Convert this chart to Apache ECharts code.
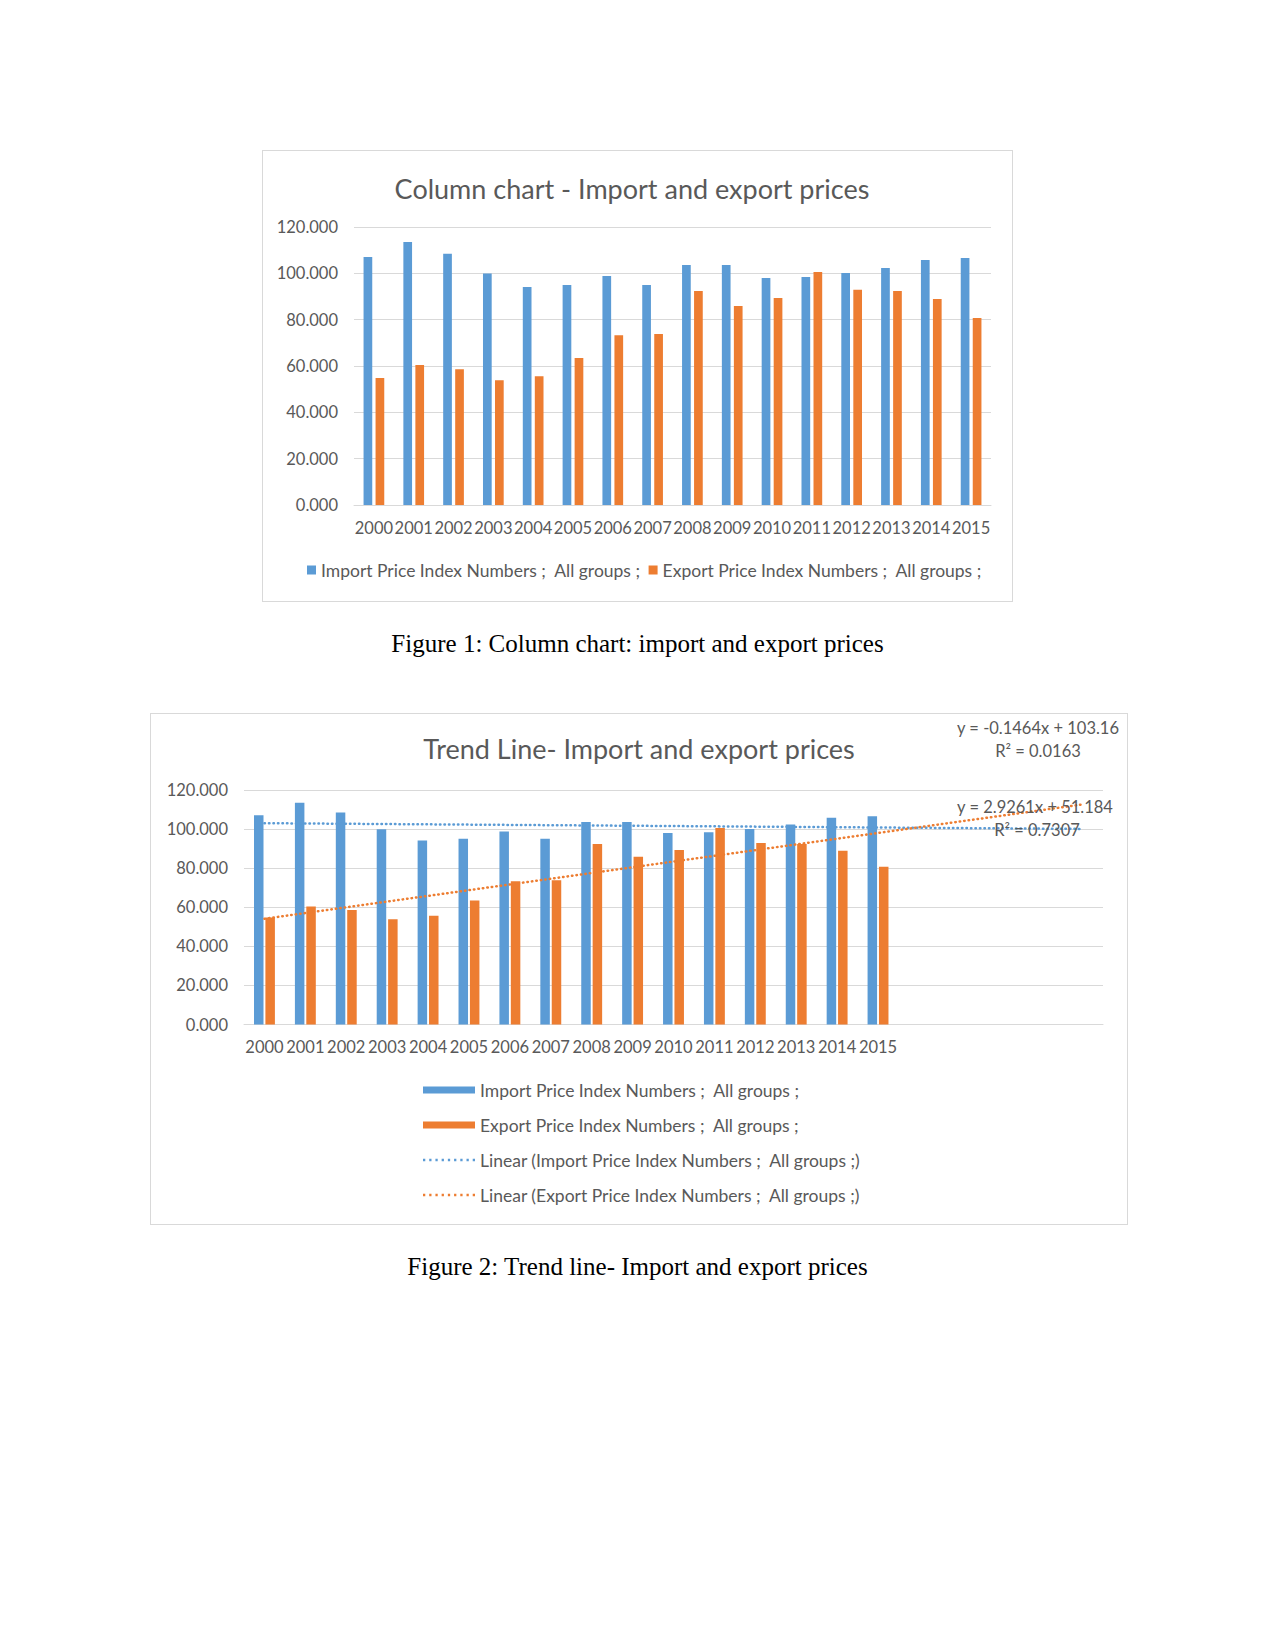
<!DOCTYPE html>
<html>
<head>
<meta charset="utf-8">
<script src="https://cdn.jsdelivr.net/npm/echarts@6/dist/echarts.min.js"></script>
<style>
  html, body { margin: 0; padding: 0; background: #ffffff; }
  body { width: 1275px; height: 1650px; position: relative; overflow: hidden; }
  #c1 { position: absolute; left: 262px; top: 150px; width: 751px; height: 452px; }
  #c2 { position: absolute; left: 150px; top: 713px; width: 978px; height: 512px; }
  .frame { position: absolute; box-sizing: border-box; border: 1px solid #d9d9d9;
           pointer-events: none; z-index: 5; }
  .cap { position: absolute; left: 0; width: 1275px; text-align: center;
         font-family: 'Liberation Serif', 'Times New Roman', serif; font-size: 25px;
         line-height: 30px; color: #000; }
</style>
</head>
<body>
<div id="c1"></div>
<div class="frame" style="left:262px;top:150px;width:751px;height:452px"></div>
<div class="cap" style="top:629px">Figure 1: Column chart: import and export prices</div>
<div id="c2"></div>
<div class="frame" style="left:150px;top:713px;width:978px;height:512px"></div>
<div class="cap" style="top:1252px">Figure 2: Trend line- Import and export prices</div>
<script>
// ---------------- data ----------------
const years = ['2000','2001','2002','2003','2004','2005','2006','2007',
               '2008','2009','2010','2011','2012','2013','2014','2015'];
const forecastYears = ['2016','2017','2018','2019','2020'];
const importIndex = [107.1,113.5,108.5,99.9,94.1,95.0,98.8,95.0,
                     103.6,103.6,98.0,98.4,100.1,102.3,105.8,106.6];
const exportIndex = [54.8,60.4,58.6,53.9,55.6,63.4,73.3,73.8,
                     92.4,85.9,89.3,100.6,92.9,92.4,88.9,80.7];
const yTicks = [0, 20, 40, 60, 80, 100, 120];
// trend line coefficients as printed on the chart: [slope, intercept]
const importTrendCoef = [-0.1464, 103.16];
const exportTrendCoef = [2.9261, 51.184];
const importR2 = '0.0163';
const exportR2 = '0.7307';

const importName = 'Import Price Index Numbers ;  All groups ;';
const exportName = 'Export Price Index Numbers ;  All groups ;';
const importTrendName = 'Linear (Import Price Index Numbers ;  All groups ;)';
const exportTrendName = 'Linear (Export Price Index Numbers ;  All groups ;)';

// ---------------- style ----------------
const FONT = 'Lato';
const GRAY = '#595959';
const GRID = '#d9d9d9';
const BLUE = '#5b9bd5';
const ORANGE = '#ed7d31';
const AXIS_FS = 16.5;
const LEGEND_FS = 17.5;
const TITLE_FS = 27;
// dotted legend icon (9 small squares)
const DOT_ICON = 'path://M0 0h2.2v2.2h-2.2zM6 0h2.2v2.2h-2.2zM12 0h2.2v2.2h-2.2zM18 0h2.2v2.2h-2.2zM24 0h2.2v2.2h-2.2zM30 0h2.2v2.2h-2.2zM36 0h2.2v2.2h-2.2zM42 0h2.2v2.2h-2.2zM48 0h2.2v2.2h-2.2z';

function yAxisCfg() {
  return {
    type: 'value', min: yTicks[0], max: yTicks[yTicks.length - 1],
    interval: yTicks[1] - yTicks[0],
    axisLine: { show: false }, axisTick: { show: false },
    axisLabel: { color: GRAY, fontFamily: FONT, fontSize: AXIS_FS, margin: 16,
                 formatter: v => v.toFixed(3) },
    splitLine: { lineStyle: { color: GRID, width: 1 } }
  };
}

// ---------------- chart 1 ----------------
const c1 = echarts.init(document.getElementById('c1'), null, { renderer: 'svg' });
c1.setOption({
  animation: false,
  backgroundColor: '#ffffff',
  textStyle: { fontFamily: FONT },
  title: {
    text: 'Column chart - Import and export prices',
    left: 370, top: 25, textAlign: 'center', padding: 0,
    textStyle: { color: GRAY, fontFamily: FONT, fontSize: TITLE_FS, fontWeight: 'normal' }
  },
  legend: {
    data: [importName, exportName],
    left: 45, top: 411, padding: 0, orient: 'horizontal',
    icon: 'rect', itemWidth: 9, itemHeight: 9, itemGap: 8,
    textStyle: { color: GRAY, fontFamily: FONT, fontSize: LEGEND_FS }
  },
  grid: { left: 92, top: 77, width: 637, height: 278, containLabel: false },
  xAxis: {
    type: 'category', data: years,
    axisLine: { show: true, lineStyle: { color: GRID } },
    axisTick: { show: false },
    axisLabel: { color: GRAY, fontFamily: FONT, fontSize: AXIS_FS, margin: 14,
                 interval: 0, hideOverlap: false }
  },
  yAxis: yAxisCfg(),
  series: [
    { name: importName, type: 'bar', data: importIndex, barWidth: 8.7, barGap: '38%',
      itemStyle: { color: BLUE } },
    { name: exportName, type: 'bar', data: exportIndex, barWidth: 8.7, barGap: '38%',
      itemStyle: { color: ORANGE } }
  ]
});

// ---------------- chart 2 ----------------
const allCats = years.concat(forecastYears);
const xs = allCats.map((_, i) => i + 1);
const importTrend = xs.map(x => importTrendCoef[1] + importTrendCoef[0] * x);
const exportTrend = xs.map(x => exportTrendCoef[1] + exportTrendCoef[0] * x);
function eq(c) {
  const s = c[1] >= 0 ? ' + ' : ' - ';
  return 'y = ' + c[0] + 'x' + s + Math.abs(c[1]);
}
const eqStyle = { fill: GRAY, font: AXIS_FS + 'px ' + FONT, textAlign: 'center', textVerticalAlign: 'middle' };

const c2 = echarts.init(document.getElementById('c2'), null, { renderer: 'svg' });
c2.setOption({
  animation: false,
  backgroundColor: '#ffffff',
  textStyle: { fontFamily: FONT },
  title: {
    text: 'Trend Line- Import and export prices',
    left: 489, top: 22, textAlign: 'center', padding: 0,
    textStyle: { color: GRAY, fontFamily: FONT, fontSize: TITLE_FS, fontWeight: 'normal' }
  },
  legend: {
    data: [
      { name: importName, icon: 'rect' },
      { name: exportName, icon: 'rect' },
      { name: importTrendName, icon: DOT_ICON },
      { name: exportTrendName, icon: DOT_ICON }
    ],
    orient: 'vertical', left: 273, top: 367, padding: 0,
    itemWidth: 52, itemHeight: 7, itemGap: 15,
    textStyle: { color: GRAY, fontFamily: FONT, fontSize: LEGEND_FS, lineHeight: 20 }
  },
  grid: { left: 94, top: 77, width: 859, height: 234.5, containLabel: false },
  xAxis: {
    type: 'category', data: allCats,
    axisLine: { show: true, lineStyle: { color: GRID } },
    axisTick: { show: false },
    axisLabel: { color: GRAY, fontFamily: FONT, fontSize: AXIS_FS, margin: 14,
                 interval: 0, hideOverlap: false,
                 formatter: (v, i) => (i < years.length ? v : '') }
  },
  yAxis: yAxisCfg(),
  graphic: [
    { type: 'text', x: 888, y: 15, silent: true, z: 10,
      style: Object.assign({ text: eq(importTrendCoef) }, eqStyle) },
    { type: 'text', x: 888, y: 38, silent: true, z: 10,
      style: Object.assign({ text: 'R² = ' + importR2 }, eqStyle) },
    { type: 'text', x: 885, y: 94, silent: true, z: 10,
      style: Object.assign({ text: eq(exportTrendCoef) }, eqStyle) },
    { type: 'text', x: 887, y: 117, silent: true, z: 10,
      style: Object.assign({ text: 'R² = ' + exportR2 }, eqStyle) }
  ],
  series: [
    { name: importName, type: 'bar', data: importIndex, barWidth: 9.5, barGap: '20%',
      itemStyle: { color: BLUE } },
    { name: exportName, type: 'bar', data: exportIndex, barWidth: 9.5, barGap: '20%',
      itemStyle: { color: ORANGE } },
    { name: importTrendName, type: 'line', data: importTrend, symbol: 'none',
      lineStyle: { color: BLUE, width: 2.5, type: [0.5, 4], cap: 'round' },
      itemStyle: { color: BLUE }, z: 5 },
    { name: exportTrendName, type: 'line', data: exportTrend, symbol: 'none',
      lineStyle: { color: ORANGE, width: 2.5, type: [0.5, 4], cap: 'round' },
      itemStyle: { color: ORANGE }, z: 5 }
  ]
});
</script>
</body>
</html>
